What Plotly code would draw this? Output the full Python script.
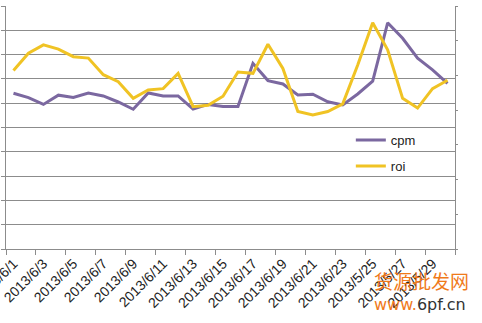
import plotly.graph_objects as go

dates = [f"2013/6/{d}" for d in range(1, 25)] + [f"2013/5/{d}" for d in range(25, 31)]
cpm = [6.41, 6.23, 5.95, 6.33, 6.24, 6.42, 6.30, 6.05, 5.75, 6.42,
       6.30, 6.30, 5.76, 5.95, 5.86, 5.86, 7.64, 6.93, 6.79, 6.34,
       6.37, 6.06, 5.93, 6.38, 6.91, 9.31, 8.67, 7.85, 7.37, 6.82]
roi = [2.57, 2.82, 2.94, 2.88, 2.77, 2.75, 2.51, 2.41, 2.17, 2.29,
       2.31, 2.53, 2.05, 2.07, 2.20, 2.55, 2.53, 2.95, 2.60, 1.98,
       1.93, 1.98, 2.09, 2.65, 3.26, 2.87, 2.17, 2.03, 2.31, 2.43]
watermark_cn = "货源批发网"
watermark_url_a = "www."
watermark_url_b = "6pf.cn"

xs = list(range(len(dates)))
grid = "#8c8c8c"
orange = "#F07A1A"

fig = go.Figure()
fig.add_trace(go.Scatter(x=xs, y=cpm, name="cpm", mode="lines", legendgroup="a",
                         line=dict(color="#7B68A0", width=3)))
fig.add_trace(go.Scatter(x=xs, y=roi, name="roi", mode="lines", legendgroup="b", yaxis="y2",
                         line=dict(color="#F0C324", width=3)))

fig.update_layout(
    width=482, height=323,
    margin=dict(l=6, r=27, t=6, b=74, autoexpand=False),
    paper_bgcolor="white", plot_bgcolor="white",
    font=dict(family="Liberation Sans", color="#222222"),
    showlegend=True,
    legend=dict(x=0.768, y=0.51, xanchor="left", yanchor="top",
                bgcolor="rgba(0,0,0,0)", font=dict(size=13, color="#222222"),
                traceorder="grouped", tracegroupgap=6),
    xaxis=dict(range=[-0.5, len(dates) - 0.5], showgrid=False, zeroline=False,
               automargin=False,
               showline=True, linecolor=grid, linewidth=1,
               tickvals=xs[::2], ticktext=dates[::2], tickangle=-45,
               ticks="", ticklabeloverflow="allow",
               tickfont=dict(size=14, color="#222222"),
               minor=dict(tickvals=[i - 0.5 for i in range(0, len(dates) + 1, 2)],
                          ticks="outside", ticklen=5, tickcolor=grid, showgrid=False)),
    yaxis=dict(range=[0, 10], dtick=1, showgrid=True, gridcolor=grid, gridwidth=1,
               automargin=False,
               zeroline=False, showline=True, linecolor=grid, showticklabels=False,
               ticks="outside", ticklen=4, tickcolor=grid),
    yaxis2=dict(range=[0, 3.5], dtick=0.5, overlaying="y", side="right", showgrid=False,
                automargin=False,
                zeroline=False, showline=True, linecolor=grid, showticklabels=False,
                ticks="outside", ticklen=2, tickcolor=grid),
)

fig.add_annotation(text=watermark_cn, xref="paper", yref="paper", x=1.035, y=-0.065,
                   xanchor="right", yanchor="top", showarrow=False,
                   font=dict(family="Noto Sans CJK SC", size=19, color=orange))
fig.add_annotation(text=f"<span style='color:{orange}'>{watermark_url_a}</span>{watermark_url_b}",
                   xref="paper", yref="paper", x=1.03, y=-0.18,
                   xanchor="right", yanchor="top", showarrow=False,
                   font=dict(family="DejaVu Sans", size=16, color="#333333"))

fig.write_html("out.html")
